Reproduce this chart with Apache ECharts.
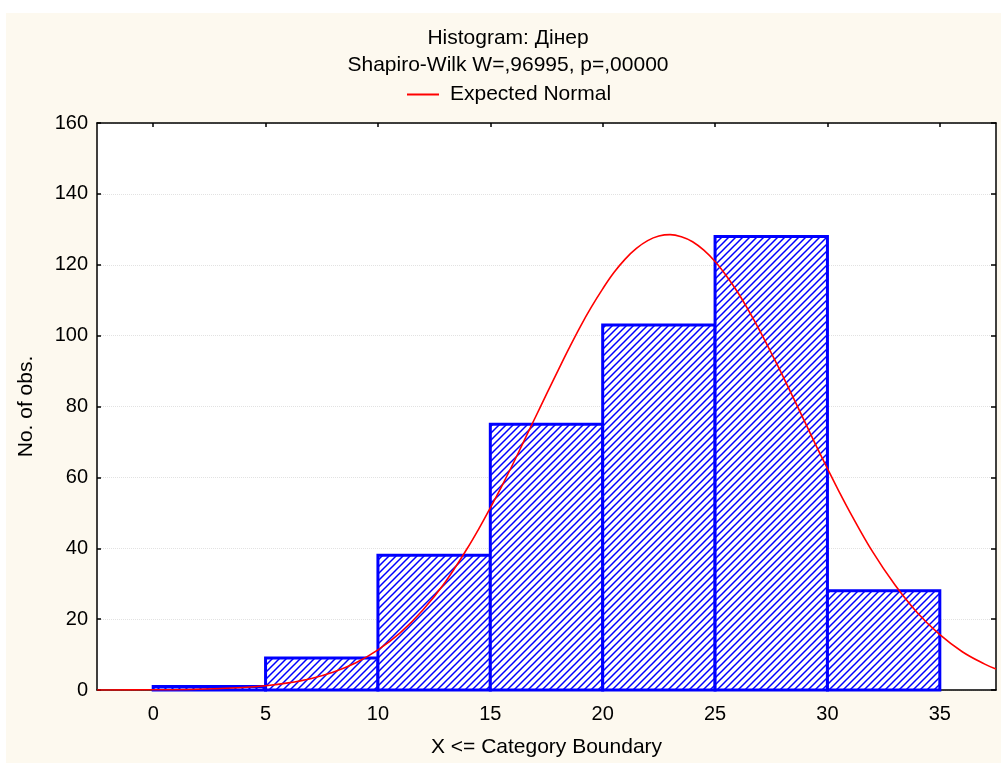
<!DOCTYPE html>
<html>
<head>
<meta charset="utf-8">
<script src="https://cdn.jsdelivr.net/npm/echarts@6/dist/echarts.min.js"></script>
<style>
html,body{margin:0;padding:0;background:#fff;}
#chart{width:1001px;height:763px;}
</style>
</head>
<body>
<div id="chart"></div>
<script>
// ---- data ----
const binStarts = [0, 5, 10, 15, 20, 25, 30];
const binEnds   = [5, 10, 15, 20, 25, 30, 35];
const binCounts = [1, 9, 38, 75, 103, 128, 28];

const curveX = [-2.5, -2, 0, 2, 4, 5, 6, 7, 8, 9, 10, 11, 12, 13, 14, 14.5, 15, 15.5, 16, 16.5, 17, 17.5, 18, 18.5, 19, 19.5, 20, 20.5, 21, 21.5, 22, 22.5, 23, 23.5, 24, 24.5, 25, 25.5, 26, 26.5, 27, 27.5, 28, 28.5, 29, 29.5, 30, 30.5, 31, 32, 33, 34, 35, 36, 37, 37.5];
const curveY = [0.01, 0.02, 0.06, 0.22, 0.7, 1.2, 2.0, 3.2, 5.0, 7.6, 11.3, 16.2, 22.6, 30.5, 40.2, 45.6, 51.4, 57.4, 63.7, 70.3, 76.9, 83.5, 90.0, 96.4, 102.5, 108.1, 113.2, 117.8, 121.6, 124.6, 126.8, 128.1, 128.5, 127.9, 126.5, 124.1, 120.9, 116.9, 112.3, 107.0, 101.3, 95.1, 88.8, 82.2, 75.6, 68.9, 62.5, 56.2, 50.2, 39.1, 29.7, 21.8, 15.6, 10.8, 7.3, 5.9];

const xTickValues = [0, 5, 10, 15, 20, 25, 30, 35];
const yTickValues = [0, 20, 40, 60, 80, 100, 120, 140, 160];

const titleText = 'Histogram: Дінер';
const subtitleText = 'Shapiro-Wilk W=,96995, p=,00000';
const seriesName = 'Expected Normal';
const xName = 'X <= Category Boundary';
const yName = 'No. of obs.';

// ---- hatch pattern ----
function makeHatch() {
  const s = 7;
  const c = document.createElement('canvas');
  c.width = s; c.height = s;
  const g = c.getContext('2d');
  g.fillStyle = '#ffffff';
  g.fillRect(0, 0, s, s);
  g.strokeStyle = '#0000ff';
  g.lineWidth = 1.5;
  g.beginPath();
  g.moveTo(-1, s + 1); g.lineTo(s + 1, -1);
  g.moveTo(-1, 1); g.lineTo(1, -1);
  g.moveTo(s - 1, s + 1); g.lineTo(s + 1, s - 1);
  g.stroke();
  return c;
}
const hatch = makeHatch();

const FONT = "'Liberation Sans', Arial, sans-serif";
const chart = echarts.init(document.getElementById('chart'));

const barData = binStarts.map((s, i) => [s, binEnds[i], binCounts[i]]);
const curveData = curveX.map((x, i) => [x, curveY[i]]);

const option = {
  backgroundColor: '#ffffff',
  animation: false,
  textStyle: { fontFamily: FONT },
  graphic: [{
    type: 'rect', z: -10, silent: true,
    shape: { x: 6, y: 13, width: 995, height: 750 },
    style: { fill: '#fdf9ef' }
  }],
  title: [
    { text: titleText, left: 508, textAlign: 'center', top: 28, padding: 0,
      textStyle: { fontFamily: FONT, fontSize: 21, fontWeight: 'normal', color: '#000' } },
    { text: subtitleText, left: 508, textAlign: 'center', top: 55, padding: 0,
      textStyle: { fontFamily: FONT, fontSize: 21, fontWeight: 'normal', color: '#000' } }
  ],
  legend: {
    left: 407, top: 84, padding: 0,
    itemWidth: 32, itemHeight: 2,
    data: [{ name: seriesName, icon: 'path://M0,0 L32,0 L32,2 L0,2 Z' }],
    textStyle: { fontFamily: FONT, fontSize: 21, color: '#000', padding: [0, 0, 0, 6] }
  },
  grid: {
    left: 97, right: 5, top: 123, bottom: 72,
    show: true, backgroundColor: '#ffffff', borderWidth: 0
  },
  xAxis: [{
    type: 'value', min: -2.5, max: 37.5, position: 'bottom',
    name: xName, nameLocation: 'middle', nameGap: 47,
    nameTextStyle: { fontFamily: FONT, fontSize: 21, color: '#000' },
    axisLine: { show: true, onZero: false, lineStyle: { color: '#000', width: 1.5 } },
    axisTick: { show: true, inside: true, length: 4, customValues: xTickValues, lineStyle: { color: '#000', width: 1.5 } },
    axisLabel: { customValues: xTickValues, fontFamily: FONT, fontSize: 20, color: '#000', margin: 14 },
    splitLine: { show: false }
  }, {
    type: 'value', min: -2.5, max: 37.5, position: 'top',
    axisLine: { show: true, onZero: false, lineStyle: { color: '#000', width: 1.5 } },
    axisTick: { show: true, inside: true, length: 4, customValues: xTickValues, lineStyle: { color: '#000', width: 1.5 } },
    axisLabel: { show: false },
    splitLine: { show: false }
  }],
  yAxis: [{
    type: 'value', min: 0, max: 160, interval: 20, position: 'left',
    name: yName, nameLocation: 'middle', nameGap: 60, nameRotate: 90,
    nameTextStyle: { fontFamily: FONT, fontSize: 21, color: '#000' },
    axisLine: { show: true, onZero: false, lineStyle: { color: '#000', width: 1.5 } },
    axisTick: { show: true, inside: true, length: 4, lineStyle: { color: '#000', width: 1.5 } },
    axisLabel: { fontFamily: FONT, fontSize: 20, color: '#000', margin: 9,
      formatter: v => (yTickValues.indexOf(v) >= 0 ? String(v) : '') },
    splitLine: { show: true, lineStyle: { color: '#e2e2e2', type: 'dotted', width: 1 } }
  }, {
    type: 'value', min: 0, max: 160, interval: 20, position: 'right',
    axisLine: { show: true, onZero: false, lineStyle: { color: '#000', width: 1.5 } },
    axisTick: { show: true, inside: true, length: 5, lineStyle: { color: '#000', width: 1.5 } },
    axisLabel: { show: false },
    splitLine: { show: false }
  }],
  series: [{
    type: 'custom',
    name: 'Histogram',
    xAxisIndex: 0, yAxisIndex: 0,
    encode: { x: [0, 1], y: 2 },
    data: barData,
    renderItem: function (params, api) {
      const p0 = api.coord([api.value(0), api.value(2)]);
      const p1 = api.coord([api.value(1), 0]);
      return {
        type: 'rect',
        shape: { x: p0[0], y: p0[1], width: p1[0] - p0[0], height: p1[1] - p0[1] },
        style: { fill: { image: hatch, repeat: 'repeat' }, stroke: '#0000ff', lineWidth: 3 }
      };
    },
    z: 2
  }, {
    type: 'line',
    name: seriesName,
    xAxisIndex: 0, yAxisIndex: 0,
    data: curveData,
    smooth: 0.4,
    showSymbol: false,
    symbol: 'none',
    lineStyle: { color: '#ff0000', width: 1.6 },
    itemStyle: { color: '#ff0000' },
    clip: true,
    z: 3
  }]
};
chart.setOption(option);
</script>
</body>
</html>
